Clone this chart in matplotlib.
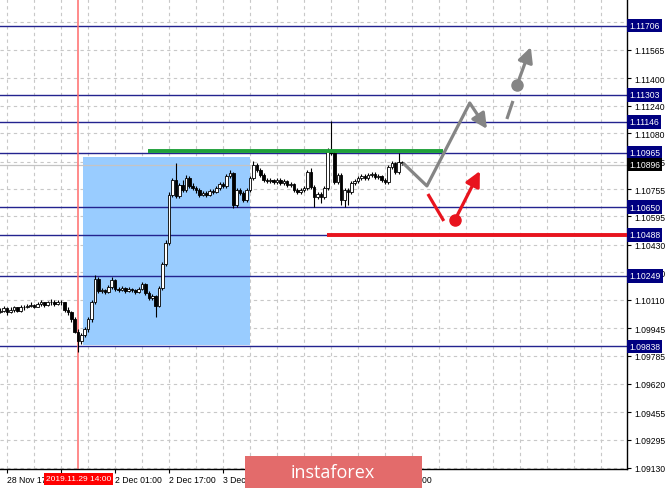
import matplotlib
matplotlib.use("Agg")
import matplotlib.pyplot as plt
from matplotlib.patches import Rectangle

plt.rcParams['font.family'] = ['Liberation Sans', 'DejaVu Sans']

# ----------------------------------------------------------
# EURUSD H1 candles, bar 0 = 28 Nov 15:00
# ----------------------------------------------------------
first_open = 1.10041

close = [1.10047, 1.10059, 1.10036, 1.10053, 1.10065, 1.10047, 1.10070, 1.10065, 1.10076, 1.10082,
         1.10070, 1.10088, 1.10094, 1.10082, 1.10094, 1.10099, 1.10088, 1.10099, 1.10094, 1.10053,
         1.10036, 1.09995, 1.09925, 1.09867, 1.09902, 1.09937, 1.09995, 1.10099, 1.10233, 1.10163,
         1.10169, 1.10157, 1.10186, 1.10227, 1.10175, 1.10169, 1.10181, 1.10163, 1.10175, 1.10169,
         1.10157, 1.10175, 1.10204, 1.10152, 1.10123, 1.10134, 1.10076, 1.10181, 1.10320, 1.10442,
         1.10720, 1.10807, 1.10714, 1.10778, 1.10749, 1.10819, 1.10772, 1.10761, 1.10749, 1.10720,
         1.10732, 1.10720, 1.10743, 1.10737, 1.10761, 1.10784, 1.10772, 1.10830, 1.10848, 1.10662,
         1.10749, 1.10732, 1.10691, 1.10749, 1.10819, 1.10894, 1.10865, 1.10836, 1.10807, 1.10801,
         1.10807, 1.10795, 1.10807, 1.10790, 1.10801, 1.10778, 1.10784, 1.10749, 1.10737, 1.10749,
         1.10761, 1.10853, 1.10766, 1.10708, 1.10726, 1.10708, 1.10761, 1.10981, 1.10964, 1.10795,
         1.10836, 1.10691, 1.10749, 1.10737, 1.10790, 1.10801, 1.10819, 1.10830, 1.10819, 1.10836,
         1.10842, 1.10824, 1.10830, 1.10807, 1.10795, 1.10882, 1.10906, 1.10853, 1.10911, 1.10906]

high = [1.10059, 1.10076, 1.10065, 1.10065, 1.10076, 1.10070, 1.10082, 1.10082, 1.10088, 1.10094,
        1.10088, 1.10099, 1.10111, 1.10099, 1.10105, 1.10117, 1.10111, 1.10111, 1.10111, 1.10099,
        1.10065, 1.10047, 1.10007, 1.09937, 1.09914, 1.09949, 1.10007, 1.10111, 1.10256, 1.10244,
        1.10181, 1.10175, 1.10198, 1.10244, 1.10233, 1.10186, 1.10192, 1.10186, 1.10186, 1.10181,
        1.10175, 1.10186, 1.10215, 1.10210, 1.10163, 1.10146, 1.10140, 1.10192, 1.10331, 1.10459,
        1.10737, 1.10819, 1.10906, 1.10790, 1.10807, 1.10836, 1.10830, 1.10790, 1.10772, 1.10761,
        1.10743, 1.10743, 1.10755, 1.10755, 1.10772, 1.10795, 1.10795, 1.10842, 1.10865, 1.10853,
        1.10761, 1.10761, 1.10743, 1.10761, 1.10830, 1.10917, 1.10906, 1.10877, 1.10848, 1.10819,
        1.10819, 1.10813, 1.10819, 1.10819, 1.10813, 1.10807, 1.10795, 1.10790, 1.10761, 1.10761,
        1.10772, 1.10865, 1.10877, 1.10778, 1.10737, 1.10737, 1.10772, 1.10993, 1.11149, 1.10975,
        1.10848, 1.10848, 1.10761, 1.10761, 1.10801, 1.10813, 1.10830, 1.10842, 1.10842, 1.10848,
        1.10853, 1.10853, 1.10842, 1.10836, 1.10819, 1.10894, 1.10917, 1.10911, 1.10964, 1.10917]

low = [1.10030, 1.10036, 1.10024, 1.10030, 1.10041, 1.10036, 1.10041, 1.10053, 1.10059, 1.10065,
       1.10059, 1.10065, 1.10076, 1.10070, 1.10076, 1.10082, 1.10076, 1.10082, 1.10082, 1.10041,
       1.10024, 1.09983, 1.09914, 1.09804, 1.09850, 1.09891, 1.09925, 1.09983, 1.10088, 1.10152,
       1.10152, 1.10146, 1.10152, 1.10175, 1.10163, 1.10157, 1.10163, 1.10152, 1.10157, 1.10157,
       1.10146, 1.10152, 1.10169, 1.10140, 1.10111, 1.10111, 1.10012, 1.10065, 1.10169, 1.10308,
       1.10430, 1.10708, 1.10703, 1.10703, 1.10737, 1.10737, 1.10761, 1.10749, 1.10732, 1.10708,
       1.10714, 1.10708, 1.10714, 1.10726, 1.10732, 1.10749, 1.10761, 1.10761, 1.10819, 1.10645,
       1.10650, 1.10720, 1.10679, 1.10679, 1.10737, 1.10807, 1.10853, 1.10824, 1.10795, 1.10790,
       1.10790, 1.10784, 1.10784, 1.10778, 1.10778, 1.10766, 1.10766, 1.10737, 1.10726, 1.10726,
       1.10737, 1.10749, 1.10755, 1.10650, 1.10697, 1.10674, 1.10697, 1.10749, 1.10952, 1.10784,
       1.10784, 1.10662, 1.10650, 1.10662, 1.10726, 1.10778, 1.10790, 1.10807, 1.10807, 1.10807,
       1.10824, 1.10813, 1.10813, 1.10795, 1.10784, 1.10784, 1.10871, 1.10842, 1.10842, 1.10894]

# levels drawn on the chart
levels = [1.11706, 1.11303, 1.11146, 1.10965, 1.10650, 1.10488, 1.10249, 1.09838]
current_price = 1.10896

# price scale ticks (right side); the top one sits under the 1.11706 label
price_ticks = [1.11730, 1.11565, 1.11400, 1.11240, 1.11080, 1.10915, 1.10755, 1.10595,
               1.10430, 1.10270, 1.10110, 1.09945, 1.09785, 1.09620, 1.09455, 1.09295, 1.09130]
price_tick_labels = ['', '1.11565', '1.11400', '1.11240', '1.11080', '1.10915', '1.10755',
                     '1.10595', '1.10430', '1.10270', '1.10110', '1.09945', '1.09785',
                     '1.09620', '1.09455', '1.09295', '1.09130']

# time scale labels (bar index -> text); covered ones are left blank
time_bars = [2, 18, 34, 50, 66, 82, 98, 114]
time_labels = ['28 Nov 17', '', '2 Dec 01:00', '2 Dec 17:00',
               '3 Dec 09:00', '', '', '5 Dec 09:00']
marker_bar = 23
marker_label = '2019.11.29 14:00'

# ----------------------------------------------------------
# Figure
# ----------------------------------------------------------
W, H = 665, 489
fig = plt.figure(figsize=(W / 100, H / 100), dpi=100)
ax = fig.add_axes([0, 19 / H, 627 / W, 470 / H])
ax.set_xlim(-0.12, 185.7)
ax.set_ylim(1.09124, 1.11862)
ax.set_axisbelow(True)

for s in ['top', 'left']:
    ax.spines[s].set_visible(False)
for s in ['right', 'bottom']:
    ax.spines[s].set_color('black')
    ax.spines[s].set_linewidth(1.0)

# grid + ticks
ax.yaxis.tick_right()
ax.set_yticks(price_ticks)
ax.set_yticklabels(price_tick_labels)
ax.tick_params(axis='y', length=3, pad=2, labelsize=6.2, width=0.8)

grid_bars = list(range(2, 180, 8))
ax.set_xticks(time_bars)
ax.set_xticklabels(time_labels)
ax.set_xticks([b for b in grid_bars if b not in time_bars], minor=True)
ax.tick_params(axis='x', which='major', length=3, pad=1.5, labelsize=6.2, width=0.8)
ax.tick_params(axis='x', which='minor', length=0)
for lbl in ax.get_xticklabels():
    lbl.set_ha('left')

ax.grid(True, which='both', color='#c8c8c8', linestyle=(0, (3, 3)), linewidth=0.8)

# analysis rectangle
ax.add_patch(Rectangle((24.5, 1.09847), 73.95 - 24.5, 1.10942 - 1.09847,
                       facecolor='#99ccff', edgecolor='none', zorder=1))

# horizontal levels
for lv in levels:
    ax.axhline(lv, color='#23238f', lw=1.0, zorder=2)
ax.axhline(current_price, color='#c4c4c4', lw=0.9, zorder=2)

# marker line
ax.axvline(23.14, color='#ff6b6b', lw=1.1, zorder=2)

# candles
opens = [first_open] + close[:-1]
for i in range(len(close)):
    o, c = opens[i], close[i]
    ax.vlines(i, low[i], high[i], color='black', lw=0.8, zorder=4)
    lo, hi = min(o, c), max(o, c)
    fc = 'white' if c > o else 'black'
    ax.add_patch(Rectangle((i - 0.38, lo), 0.76, max(hi - lo, 0.000015),
                           facecolor=fc, edgecolor='black', lw=0.6, zorder=5))

# green resistance and red support
ax.plot([43.7, 131.1], [1.10977, 1.10977], color='#1fa03a', lw=2.8, zorder=6,
        solid_capstyle='butt')
ax.plot([96.8, 185.7], [1.10488, 1.10488], color='#e8141e', lw=2.8, zorder=6,
        solid_capstyle='butt')

arrow_style = '-|>,head_length=0.6,head_width=0.3'

# gray scenario
gray = '#858585'
ax.plot([119.3, 126.4, 139.1], [1.10907, 1.10773, 1.11256], color=gray, lw=2.3,
        zorder=7, solid_capstyle='butt')
ax.annotate('', xy=(144.2, 1.11105), xytext=(139.1, 1.11256),
            arrowprops=dict(arrowstyle=arrow_style, color=gray, lw=2.3,
                            mutation_scale=15, shrinkA=0, shrinkB=0), zorder=7)
ax.plot([150.1, 151.9], [1.11163, 1.11268], color=gray, lw=2.3, zorder=7,
        solid_capstyle='butt')
ax.plot([153.1], [1.11361], 'o', ms=8, color=gray, zorder=7)
ax.annotate('', xy=(157.2, 1.11582), xytext=(153.1, 1.11361),
            arrowprops=dict(arrowstyle=arrow_style, color=gray, lw=2.3,
                            mutation_scale=15, shrinkA=0, shrinkB=0), zorder=7)

# red scenario
red = '#e8141e'
ax.plot([126.7, 131.4], [1.10726, 1.10569], color=red, lw=2.3, zorder=7,
        solid_capstyle='butt')
ax.plot([134.7], [1.10575], 'o', ms=8, color=red, zorder=7)
ax.annotate('', xy=(142.1, 1.10860), xytext=(134.7, 1.10575),
            arrowprops=dict(arrowstyle=arrow_style, color=red, lw=2.3,
                            mutation_scale=15, shrinkA=0, shrinkB=0), zorder=7)

# price labels on the right scale
ytr = ax.get_yaxis_transform()
for lv in levels:
    ax.text(1.0035, lv, f"{lv:.5f}", transform=ytr, ha='left', va='center',
            color='white', fontsize=6.2, clip_on=False, zorder=20,
            bbox=dict(boxstyle='square,pad=0.25', fc='#000080', ec='none'))
ax.text(1.0035, current_price, f"{current_price:.5f}", transform=ytr, ha='left',
        va='center', color='white', fontsize=6.2, clip_on=False, zorder=20,
        bbox=dict(boxstyle='square,pad=0.25', fc='black', ec='none'))

# marker time label
ax.text(marker_bar + 0.14, -10 / 470, marker_label, transform=ax.get_xaxis_transform(),
        ha='center', va='center', color='white', fontsize=6.0, clip_on=False, zorder=20,
        bbox=dict(boxstyle='square,pad=0.25', fc='#ff0000', ec='none'))

# watermark
fig.add_artist(Rectangle((245 / W, 0), 177 / W, 32 / H, transform=fig.transFigure,
                         facecolor='#e36b6b', edgecolor='none', zorder=30))
fig.text(333 / W, 16 / H, 'instaforex', color='white', fontsize=13,
         family=['Open Sans', 'DejaVu Sans'], ha='center', va='center', zorder=31)

fig.savefig('out.png', dpi=100)
